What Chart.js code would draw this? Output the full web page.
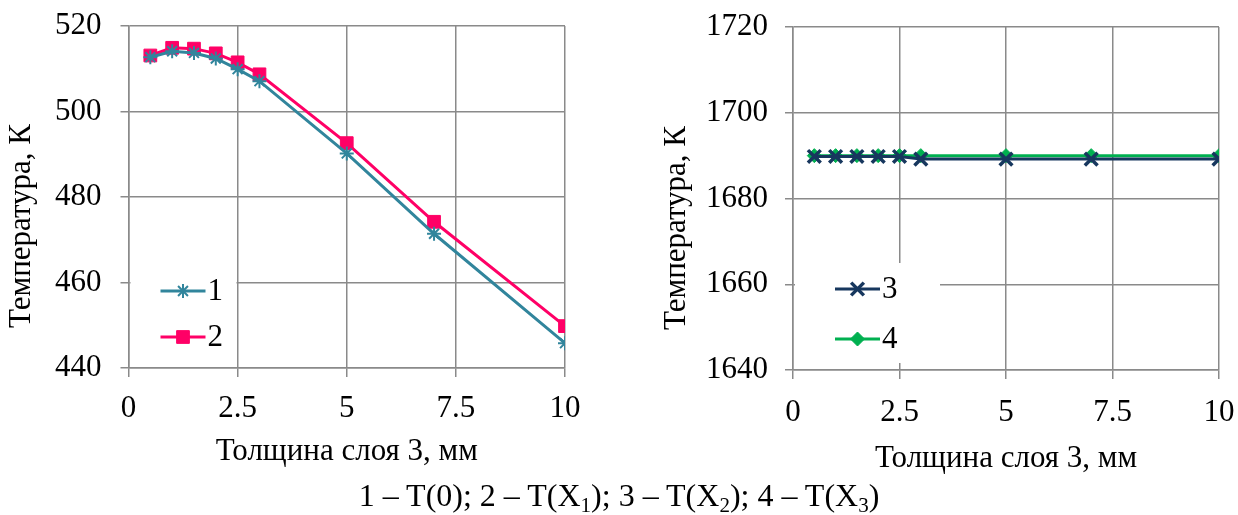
<!DOCTYPE html>
<html>
<head>
<meta charset="utf-8">
<script src="https://cdn.jsdelivr.net/npm/chart.js@4.4.1/dist/chart.umd.min.js"></script>
<style>
  body { margin: 0; background: #fff; width: 1238px; height: 515px; overflow: hidden; position: relative; }
  #left { position: absolute; left: 0; top: 0; }
  #right { position: absolute; left: 640px; top: 0; }
  .caption { position: absolute; left: 0; width: 1238px; top: 477px; text-align: center;
    font-family: 'Liberation Serif', serif; font-size: 32px; line-height: 36px; color: #000; }
  .caption sub { font-size: 21px; vertical-align: -6px; line-height: 0; }
</style>
</head>
<body>
<canvas id="left" width="600" height="476"></canvas>
<canvas id="right" width="598" height="482"></canvas>
<div class="caption">1 – T(0); 2 – T(X<sub>1</sub>); 3 – T(X<sub>2</sub>); 4 – T(X<sub>3</sub>)</div>
<script>
/* ============================
   Температура vs толщина слоя 3
   ============================ */

const thickness = [0.5, 1, 1.5, 2, 2.5, 3, 5, 7, 10];
const xTicks = [0, 2.5, 5, 7.5, 10];

// left chart
const t0 = [512.7, 514.1, 513.7, 512.4, 509.9, 507.1, 490.2, 471.4, 445.8];
const tX1 = [513.1, 514.9, 514.7, 513.6, 511.5, 508.7, 492.6, 474.2, 449.8];
const leftTicks = [440, 460, 480, 500, 520];

// right chart
const tX2 = [1689.8, 1689.8, 1689.8, 1689.8, 1689.8, 1689.2, 1689.2, 1689.2, 1689.2];
const tX3 = [1690.0, 1690.0, 1690.0, 1690.0, 1690.0, 1690.0, 1690.0, 1690.0, 1690.0];
const rightTicks = [1640, 1660, 1680, 1700, 1720];

const FONT = 'Liberation Serif';
const FS = 31;
const GRID = '#8a8a8a';

// legend inside the plot area (white box) + y title placed like Excel does
const extras = {
  id: 'extras',
  afterDraw(chart, args, opts) {
    const ctx = chart.ctx;
    const a = chart.chartArea;
    ctx.save();
    ctx.fillStyle = '#fff';
    ctx.fillRect(a.left + opts.box[0], a.top + opts.box[1], opts.box[2], opts.box[3]);
    ctx.font = FS + 'px "' + FONT + '"';
    chart.data.datasets.forEach((ds, i) => {
      const y = a.top + opts.rows[i];
      const x1 = a.left + opts.line[0];
      const x2 = a.left + opts.line[1];
      ctx.strokeStyle = ds.borderColor;
      ctx.fillStyle = ds.borderColor;
      ctx.lineWidth = ds.borderWidth;
      ctx.beginPath();
      ctx.moveTo(x1, y);
      ctx.lineTo(x2, y);
      ctx.stroke();
      ctx.lineWidth = ds.pointBorderWidth;
      Chart.helpers.drawPoint(ctx, {
        pointStyle: ds.pointStyle,
        radius: ds.pointRadius,
        borderWidth: ds.pointBorderWidth
      }, (x1 + x2) / 2, y);
      ctx.fillStyle = '#000';
      ctx.textBaseline = 'middle';
      ctx.textAlign = 'left';
      ctx.fillText(ds.label, x2 + 2, y + 1);
    });
    // y axis title
    ctx.translate(opts.titleX, opts.titleY);
    ctx.rotate(-Math.PI / 2);
    ctx.fillStyle = '#000';
    ctx.textAlign = 'center';
    ctx.textBaseline = 'middle';
    ctx.fillText('Температура, К', 0, 0);
    ctx.restore();
  }
};

function lineSet(label, values, color, style, radius, bw) {
  return {
    label,
    data: thickness.map((x, i) => ({ x, y: values[i] })),
    borderColor: color,
    backgroundColor: color,
    borderWidth: 3,
    pointStyle: style,
    pointRadius: radius,
    pointBorderWidth: bw,
    pointBackgroundColor: color,
    pointBorderColor: color,
    tension: 0
  };
}

function makeChart(id, datasets, yTicks, cfg) {
  return new Chart(document.getElementById(id), {
    type: 'line',
    data: { datasets },
    options: {
      responsive: false,
      animation: false,
      layout: { padding: { top: cfg.top, right: cfg.right, left: 0, bottom: 0 } },
      plugins: {
        legend: { display: false },
        tooltip: { enabled: false },
        extras: cfg.legend
      },
      scales: {
        x: {
          type: 'linear',
          min: 0, max: 10,
          afterBuildTicks: s => { s.ticks = xTicks.map(v => ({ value: v })); },
          afterFit: s => { s.height = cfg.xHeight; s.paddingLeft = 0; s.paddingRight = 0; },
          grid: { color: GRID, lineWidth: 1.5, tickLength: 9, drawTicks: true },
          border: { color: GRID, width: 1.5 },
          ticks: { color: '#000', font: { family: FONT, size: FS }, padding: cfg.xPad, maxRotation: 0,
            callback: v => String(v) },
          title: { display: true, text: 'Толщина слоя 3, мм', color: '#000',
            font: { family: FONT, size: FS }, padding: { top: 0, bottom: cfg.xTitlePad } }
        },
        y: {
          min: yTicks[0], max: yTicks[yTicks.length - 1],
          afterBuildTicks: s => { s.ticks = yTicks.map(v => ({ value: v })); },
          afterFit: s => { s.width = cfg.yWidth; s.paddingTop = 0; s.paddingBottom = 0; },
          grid: { color: GRID, lineWidth: 1.5, tickLength: 8, drawTicks: true },
          border: { color: GRID, width: 1.5 },
          ticks: { color: '#000', font: { family: FONT, size: FS }, padding: cfg.yPad,
            callback: v => String(v) }
        }
      }
    },
    plugins: [extras]
  });
}

makeChart('left', [
  lineSet('1', t0, '#31859c', 'star', 7, 2),
  lineSet('2', tX1, '#ff0066', 'rect', 9, 1)
], leftTicks, {
  top: 26, right: 35, xHeight: 108, yWidth: 128.5, xPad: 13, yPad: 19, xTitlePad: 6,
  legend: { box: [2, 240, 106, 95], rows: [265, 311], line: [32, 77], titleX: 22, titleY: 226 }
});

makeChart('right', [
  lineSet('3', tX2, '#17375e', 'crossRot', 9, 3.5),
  lineSet('4', tX3, '#00b050', 'rectRot', 7, 1)
], rightTicks, {
  top: 27, right: 19, xHeight: 112, yWidth: 153, xPad: 15, yPad: 17, xTitlePad: 5,
  legend: { box: [2, 236, 145, 100], rows: [262, 312], line: [42, 87], titleX: 37, titleY: 228 }
});
</script>
</body>
</html>
